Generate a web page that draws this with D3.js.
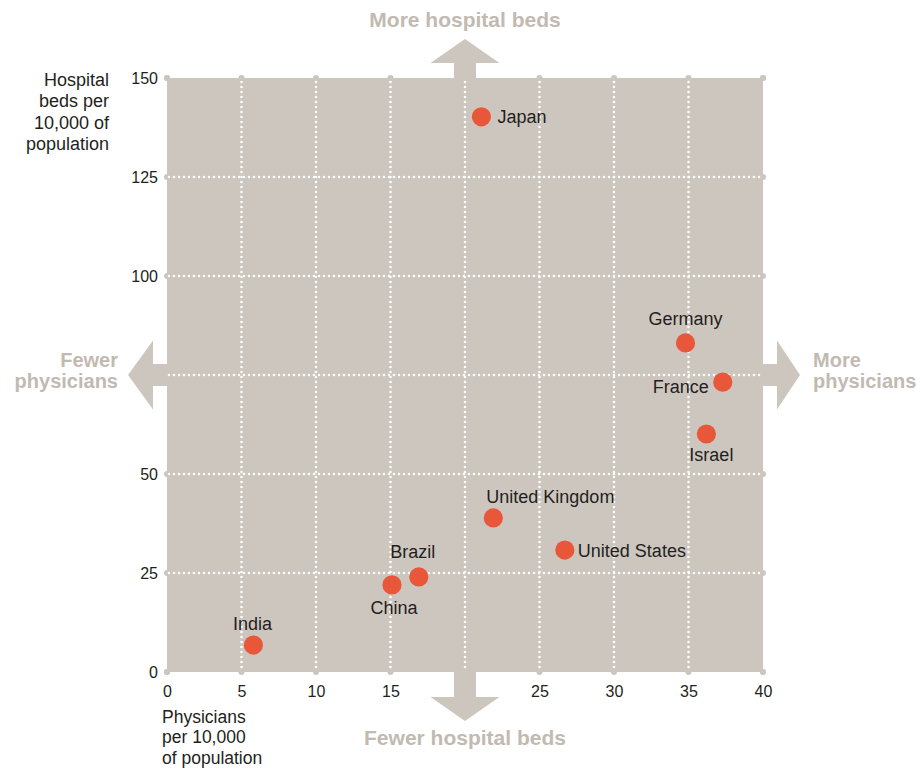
<!DOCTYPE html>
<html><head><meta charset="utf-8">
<script src="https://cdn.jsdelivr.net/npm/d3@7"></script>
<style>
body{margin:0;background:#fff}
svg{display:block}
text{font-family:"Liberation Sans",Arial,Helvetica,sans-serif}
</style>
</head><body>
<svg id="chart" width="920" height="769"></svg>
<script>
// ---- data ----
const countries = ["Japan","Germany","France","Israel","United Kingdom","United States","Brazil","China","India"];
const physicians = [21.1, 34.8, 37.3, 36.2, 21.9, 26.7, 16.9, 15.1, 5.8];
const hospitalBeds = [140.2, 83.1, 73.2, 60.1, 38.9, 30.8, 24.0, 22.0, 6.8];
const xTicks = [0,5,10,15,20,25,30,35,40];
const yTicks = [0,25,50,75,100,125,150];
const yTitle = ["Hospital","beds per","10,000 of","population"];
const xTitle = ["Physicians","per 10,000","of population"];
const arrowLabels = {up:["More hospital beds"], down:["Fewer hospital beds"], left:["Fewer","physicians"], right:["More","physicians"]};

// ---- layout ----
const svg = d3.select("#chart");
const L = 167, R = 763, T = 78, B = 672;
const x = d3.scaleLinear().domain([0,40]).range([L,R]);
const y = d3.scaleLinear().domain([0,150]).range([B,T]);
const bg = "#cdc6bf", grey = "#c2bab1", ink = "#231f20", dot = "#e9573a";

// plot background
svg.append("rect").attr("x",L).attr("y",T).attr("width",R-L).attr("height",B-T).attr("fill",bg);

// edge caps
const caps = svg.append("g").attr("fill",bg);
xTicks.forEach(v => { caps.append("circle").attr("cx",x(v)).attr("cy",T).attr("r",3);
                      caps.append("circle").attr("cx",x(v)).attr("cy",B).attr("r",3); });
yTicks.forEach(v => { caps.append("circle").attr("cx",L).attr("cy",y(v)).attr("r",3);
                      caps.append("circle").attr("cx",R).attr("cy",y(v)).attr("r",3); });

// dotted gridlines (interior)
const grid = svg.append("g").attr("stroke","#fff").attr("stroke-width",2.6)
  .attr("stroke-linecap","round").attr("stroke-dasharray","0 5");
xTicks.filter(v => v>0 && v<40).forEach(v =>
  grid.append("line").attr("x1",x(v)).attr("x2",x(v)).attr("y1",T+4).attr("y2",B));
yTicks.filter(v => v>0 && v<150).forEach(v =>
  grid.append("line").attr("x1",L+2).attr("x2",R).attr("y1",y(v)).attr("y2",y(v)));

// axes (labels only)
const ax = svg.append("g").attr("transform",`translate(0,${B})`)
  .call(d3.axisBottom(x).tickValues(xTicks).tickSize(0).tickPadding(14));
const ay = svg.append("g").attr("transform",`translate(${L},0)`)
  .call(d3.axisLeft(y).tickValues(yTicks).tickSize(0).tickPadding(9));
[ax,ay].forEach(g => { g.select(".domain").remove();
  g.selectAll("text").attr("font-size",16).attr("fill",ink)
   .attr("font-family",'"Liberation Sans",Arial,sans-serif'); });

// axis titles
const yt = svg.append("text").attr("text-anchor","end").attr("font-size",18).attr("fill",ink);
yTitle.forEach((s,i) => yt.append("tspan").attr("x",109).attr("y",86+i*21.3).text(s));
const xt = svg.append("text").attr("text-anchor","start").attr("font-size",17.5).attr("fill",ink);
xTitle.forEach((s,i) => xt.append("tspan").attr("x",162).attr("y",723+i*20.3).text(s));

// arrows
const cx = x(20), cy = y(75), sw = 11, hw = 34.5;
const arrows = svg.append("g").attr("fill",bg);
arrows.append("path").attr("d",
  `M${cx-sw},${T} V63 H${cx-hw} L${cx},39 L${cx+hw},63 H${cx+sw} V${T} Z`);
arrows.append("path").attr("d",
  `M${cx-sw},${B} V697 H${cx-hw} L${cx},721 L${cx+hw},697 H${cx+sw} V${B} Z`);
arrows.append("path").attr("d",
  `M${L},${cy-sw} H153 V${cy-hw} L128,${cy} L153,${cy+hw} V${cy+sw} H${L} Z`);
arrows.append("path").attr("d",
  `M${R},${cy-sw} H777 V${cy-hw} L800,${cy} L777,${cy+hw} V${cy+sw} H${R} Z`);

const al = svg.append("g").attr("font-weight","bold").attr("fill",grey);
al.append("text").attr("x",cx).attr("y",27).attr("font-size",21).attr("text-anchor","middle").text(arrowLabels.up[0]);
al.append("text").attr("x",cx).attr("y",745).attr("font-size",21).attr("text-anchor","middle").text(arrowLabels.down[0]);
const lt = al.append("text").attr("text-anchor","end").attr("font-size",20);
arrowLabels.left.forEach((s,i) => lt.append("tspan").attr("x",118).attr("y",367+i*21).text(s));
const rt = al.append("text").attr("text-anchor","start").attr("font-size",20);
arrowLabels.right.forEach((s,i) => rt.append("tspan").attr("x",813).attr("y",367+i*21).text(s));

// points
const pts = countries.map((c,i) => ({c, px: physicians[i], hb: hospitalBeds[i]}));
svg.append("g").selectAll("circle").data(pts).join("circle")
  .attr("cx",d => x(d.px)).attr("cy",d => y(d.hb)).attr("r",9.6).attr("fill",dot);

// label placement: [dx, dy, anchor]
const place = {
  "Japan":[16,6,"start"], "Germany":[0,-18,"middle"], "France":[-14,11,"end"],
  "Israel":[5,27,"middle"], "United Kingdom":[-7,-15,"start"], "United States":[13,7,"start"],
  "Brazil":[-6,-19,"middle"], "China":[2,29,"middle"], "India":[-1,-15,"middle"]
};
svg.append("g").selectAll("text").data(pts).join("text")
  .attr("x",d => x(d.px)+place[d.c][0]).attr("y",d => y(d.hb)+place[d.c][1])
  .attr("text-anchor",d => place[d.c][2]).attr("font-size",18).attr("fill",ink)
  .text(d => d.c);
</script>
</body></html>
